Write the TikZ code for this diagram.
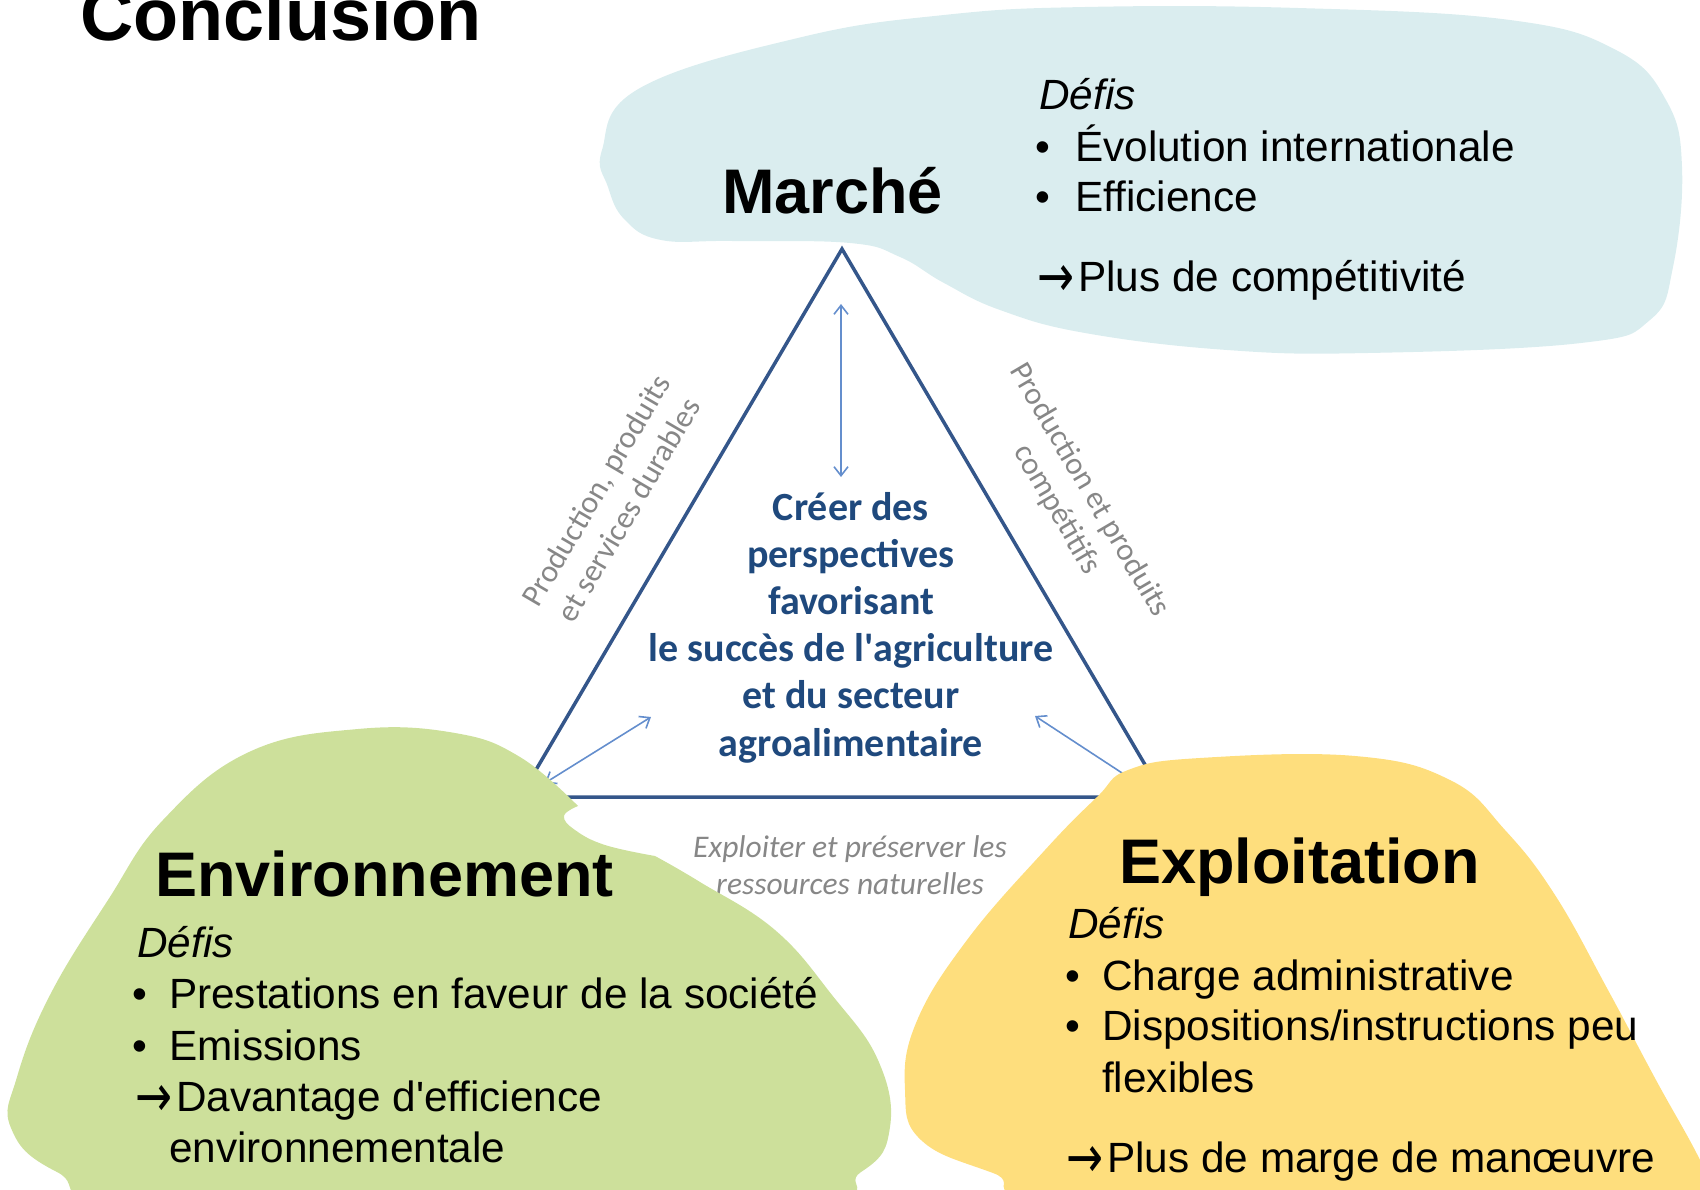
\documentclass[tikz,border=0pt]{standalone}
\usepackage{fontspec}
\setmainfont{Liberation Sans}
\newfontfamily\calibri{Carlito}
\newfontfamily\djv{DejaVu Sans}
\usetikzlibrary{arrows.meta}
\definecolor{mkblue}{RGB}{218,237,239}
\definecolor{envgreen}{RGB}{205,224,155}
\definecolor{expyellow}{RGB}{254,222,125}
\definecolor{trline}{RGB}{52,86,138}
\definecolor{trtext}{RGB}{31,73,125}
\definecolor{thinarrow}{RGB}{100,142,205}
\definecolor{labelgray}{RGB}{135,135,135}
\tikzset{
  txt/.style={inner sep=0pt, anchor=base west, font=\fontsize{42.3}{50}\selectfont},
  headtxt/.style={inner sep=0pt, anchor=base west, font=\fontsize{63}{70}\selectfont\bfseries},
  itxt/.style={txt, font=\fontsize{42.3}{50}\selectfont\itshape},
  triline/.style={draw=trline, line width=3.5pt, line join=miter},
  thinarr/.style={draw=thinarrow, line width=1.6pt, {Straight Barb[length=9pt,width=14pt]}-{Straight Barb[length=9pt,width=14pt]}},
  grayl/.style={inner sep=0pt, align=center, text=labelgray, font=\fontsize{31.5}{38}\selectfont\calibri},
}
\newcommand{\bul}[1]{\makebox[#1][l]{\textbullet}}
\newcommand{\rarr}{\makebox[41pt][l]{\raisebox{-5pt}{\resizebox{37pt}{31pt}{\djv →}}}}
\begin{document}
\begin{tikzpicture}[x=1pt,y=-1pt]
\useasboundingbox (0,0) rectangle (1700,1190);
\clip (0,0) rectangle (1700,1190);

% Marché blob
\fill[mkblue] plot[smooth cycle, tension=0.7] coordinates {(602,150) (640,88) (802,37) (944,15) (1085,7) (1298,8) (1510,20) (1616,50) (1666,100) (1682,167) (1673,267) (1650,320) (1581,343) (1368,353) (1227,350) (1085,333) (1000,310) (944,283) (900,257) (850,243) (732,241) (661,240) (625,220) (608,187)};

% triangle
\coordinate (apex) at (842,249);
\coordinate (bl) at (520,797);
\coordinate (br) at (1164,797);
\draw[triline] (apex) -- (bl) -- (br) -- cycle;

\coordinate (vtop) at (841,304);
\coordinate (vbot) at (841,477);
\coordinate (ltip) at (545,783);
\coordinate (lend) at (651,717);
\coordinate (rtip) at (1035,716);
\coordinate (rend) at (1145,788);
\draw[thinarr] (vtop) -- (vbot);
\draw[thinarr] (ltip) -- (lend);
\draw[thinarr] (rtip) -- (rend);

\node[inner sep=0pt, anchor=base, align=center, text=trtext, font=\fontsize{40}{47.2}\selectfont\calibri\bfseries] (center) at (851,756) {Créer des\\perspectives\\favorisant\\le succès de l\textquotesingle agriculture\\et du secteur\\agroalimentaire};

\node[grayl, rotate=59.6] (leftlab) at (612,500) {Production, produits\\et services durables};
\node[grayl, rotate=-59.6] (rightlab) at (1073,500) {Production et produits\\compétitifs};
\node[grayl, anchor=base, font=\fontsize{31.5}{37}\selectfont\calibri\itshape] (botlab) at (850,894) {Exploiter et préserver les\\ressources naturelles};

% Environnement blob
\fill[envgreen] plot[smooth, tension=0.7] coordinates {(655,856) (700,882) (775,930) (832,995) (878,1060) (890,1127) (861,1172) (770,1205) (172,1210) (57,1172) (11,1128) (17,1077) (50,995) (108,900) (163,820) (249,752) (358,729) (455,733) (520,757) (578,806)} -- plot[smooth, tension=0.7] coordinates {(578,806) (564,816) (575,830) (605,845) (655,856)} -- cycle;

% Exploitation blob
\fill[expyellow] plot[smooth cycle, tension=0.7] coordinates {(1128,770) (1200,758) (1355,756) (1450,780) (1505,830) (1555,895) (1608,990) (1656,1080) (1700,1160) (1720,1210) (1097,1205) (993,1173) (921,1140) (905,1090) (916,1023) (967,940) (1045,850) (1097,797)};

% title
\node[inner sep=0pt, anchor=base west, font=\fontsize{73.8}{80}\selectfont\bfseries] (title) at (80,41) {Conclusion};

% Marché texts
\node[headtxt] (mhead) at (722,214) {Marché};
\node[itxt] (mdefis) at (1039,110) {Défis};
\node[txt] (m1) at (1035,162) {\bul{40pt}Évolution internationale};
\node[txt] (m2) at (1035,212) {\bul{40pt}Efficience};
\node[txt] (m3) at (1037,292) {\rarr Plus de compétitivité};

% Environnement texts
\node[headtxt] (ehead) at (155,896) {Environnement};
\node[itxt] (edefis) at (137,957) {Défis};
\node[txt] (e1) at (132,1008) {\bul{37pt}Prestations en faveur de la société};
\node[txt] (e2) at (132,1060) {\bul{37pt}Emissions};
\node[txt] (e3) at (135,1111) {\rarr Davantage d\textquotesingle efficience};
\node[txt] (e4) at (169,1162) {environnementale};

% Exploitation texts
\node[headtxt] (xhead) at (1119,883) {Exploitation};
\node[itxt] (xdefis) at (1068,938) {Défis};
\node[txt] (x1) at (1065,990) {\bul{37pt}Charge administrative};
\node[txt] (x2) at (1065,1040) {\bul{37pt}Dispositions/instructions peu};
\node[txt] (x3) at (1102,1092) {flexibles};
\node[txt] (x4) at (1066,1172) {\rarr Plus de marge de manœuvre};
\end{tikzpicture}
\end{document}
